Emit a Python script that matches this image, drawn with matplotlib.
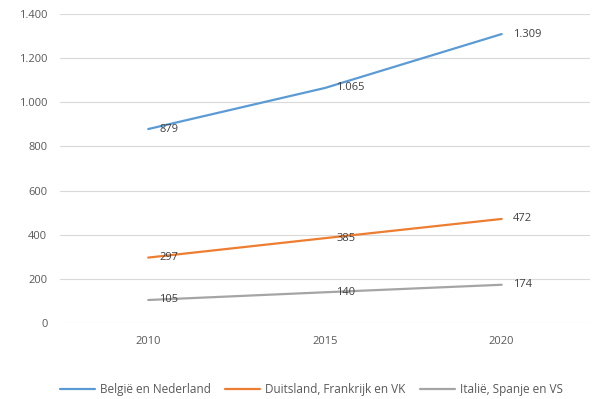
import matplotlib.pyplot as plt
from matplotlib.ticker import FuncFormatter

# Jaren en reeksen
jaren = ['2010', '2015', '2020']
belgie_nederland = [879, 1065, 1309]
duitsland_frankrijk_vk = [297, 385, 472]
italie_spanje_vs = [105, 140, 174]

reeksen = [
    ('België en Nederland', belgie_nederland, '#5b9bd5'),
    ('Duitsland, Frankrijk en VK', duitsland_frankrijk_vk, '#ed7d31'),
    ('Italië, Spanje en VS', italie_spanje_vs, '#a5a5a5'),
]

plt.rcParams['font.family'] = ['Open Sans', 'DejaVu Sans']
tekstkleur = '#595959'

fig = plt.figure(figsize=(5.93, 3.99), dpi=100)
ax = fig.add_axes([0.101, 0.19, 0.894, 0.775])

x = list(range(len(jaren)))
for naam, waarden, kleur in reeksen:
    ax.plot(x, waarden, color=kleur, linewidth=1.6, label=naam, solid_capstyle='round')
    for xi, v in zip(x, waarden):
        ax.annotate(f'{v:,}'.replace(',', '.'), xy=(xi, v), xytext=(8, 0),
                    textcoords='offset points', ha='left', va='center',
                    fontsize=8, color='#404040')

ax.set_xlim(-0.5, 2.5)
ax.set_ylim(0, 1400)
ax.set_yticks(range(0, 1401, 200))
ax.yaxis.set_major_formatter(FuncFormatter(lambda v, p: f'{int(v):,}'.replace(',', '.')))
ax.set_xticks(x)
ax.set_xticklabels(jaren)

ax.grid(axis='y', color='#d9d9d9', linewidth=0.8)
ax.set_axisbelow(True)
for s in ax.spines.values():
    s.set_visible(False)
ax.tick_params(length=0, labelsize=8, colors=tekstkleur, pad=9)

fig.legend(loc='lower center', ncol=3, frameon=False, fontsize=8.5,
           bbox_to_anchor=(0.525, -0.02), handlelength=3, columnspacing=1.2,
           handletextpad=0.4, labelcolor=tekstkleur)

fig.savefig('out.png', dpi=100)
